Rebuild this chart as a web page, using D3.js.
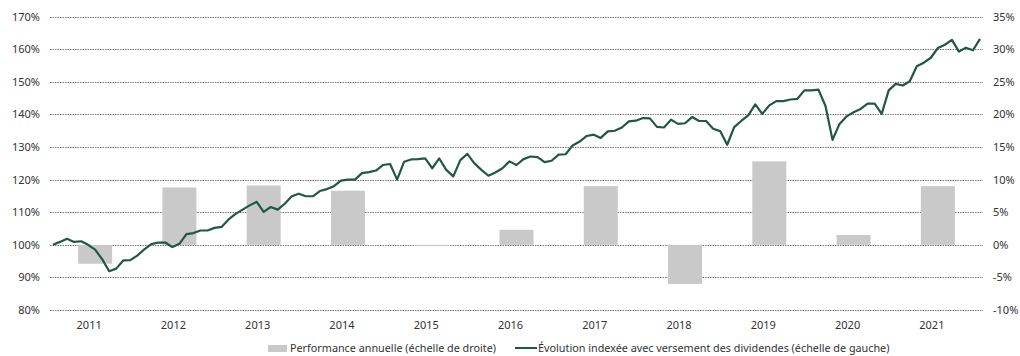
<!DOCTYPE html>
<html>
<head>
<meta charset="utf-8">
<script src="https://cdn.jsdelivr.net/npm/d3@7"></script>
<style>
  html, body { margin: 0; padding: 0; background: #fff; }
  svg { display: block; }
  text { font-family: "Noto Sans", "Open Sans", sans-serif; fill: #333; }
</style>
</head>
<body>
<svg id="chart" width="1020" height="356"></svg>
<script>
// Années affichées sous l'axe
const years = [2011, 2012, 2013, 2014, 2015, 2016, 2017, 2018, 2019, 2020, 2021];

// Performance annuelle en % (échelle de droite)
const annualPerf = [-2.9, 8.8, 9.1, 8.3, -0.2, 2.3, 9.0, -6.0, 12.8, 1.5, 9.0];

// Évolution indexée mensuelle (base 100 fin 2010), échelle de gauche
const indexed = [
  100.0, 100.9, 101.9, 100.9, 101.1, 100.0, 98.5, 95.6, 91.9, 92.7, 95.2, 95.3,
  96.7, 98.6, 100.2, 100.7, 100.7, 99.3, 100.3, 103.3, 103.6, 104.4, 104.4, 105.2,
  105.5, 107.8, 109.5, 110.8, 112.1, 113.2, 110.1, 111.6, 110.8, 112.6, 114.9, 115.7,
  114.9, 114.9, 116.5, 117.1, 118.0, 119.7, 120.0, 120.0, 122.0, 122.3, 122.8, 124.5,
  124.8, 120.0, 125.5, 126.2, 126.3, 126.5, 123.5, 126.5, 123.0, 121.0, 126.0, 127.9,
  125.0, 123.0, 121.2, 122.2, 123.5, 125.6, 124.5, 126.3, 127.1, 126.9, 125.4, 125.8,
  127.7, 127.8, 130.5, 131.7, 133.4, 133.8, 132.8, 134.8, 135.0, 136.0, 137.9, 138.1,
  138.9, 138.8, 136.2, 136.0, 138.4, 137.1, 137.3, 139.2, 138.0, 138.0, 135.6, 134.9,
  130.7, 136.1, 138.0, 139.7, 143.1, 140.2, 142.8, 144.1, 144.1, 144.6, 144.8, 147.4,
  147.4, 147.6, 142.6, 132.2, 137.1, 139.4, 140.7, 141.7, 143.3, 143.3, 140.2, 147.4,
  149.4, 148.9, 150.2, 154.8, 155.9, 157.4, 160.4, 161.4, 162.9, 159.3, 160.5, 159.7,
  163.2
];

// Graduations des deux axes
const leftTicks = [80, 90, 100, 110, 120, 130, 140, 150, 160, 170];
const rightTicks = [-10, -5, 0, 5, 10, 15, 20, 25, 30, 35];

// Légende
const legendLabels = [
  "Performance annuelle (échelle de droite)",
  "Évolution indexée avec versement des dividendes (échelle de gauche)"
];

const BAR_COLOR = "#c9c9c9";
const LINE_COLOR = "#1f5846";

const svg = d3.select("#chart");
const plotLeft = 50, plotRight = 983, plotTop = 16.7, plotBottom = 310;

// Axe horizontal en mois écoulés depuis fin 2010
const x = d3.scaleLinear().domain([0, 132]).range([53, 980]);
const yL = d3.scaleLinear().domain([80, 170]).range([plotBottom, plotTop]);
const yR = d3.scaleLinear().domain([-10, 35]).range([plotBottom, plotTop]);

// Grille pointillée
svg.append("g")
  .selectAll("line")
  .data(leftTicks)
  .join("line")
  .attr("x1", plotLeft).attr("x2", plotRight)
  .attr("y1", d => Math.round(yL(d)) + 0.5)
  .attr("y2", d => Math.round(yL(d)) + 0.5)
  .attr("stroke", "#555")
  .attr("stroke-width", 0.8)
  .attr("stroke-dasharray", "1.5,1");

// Barres de performance annuelle
const barW = 34;
svg.append("g")
  .selectAll("rect")
  .data(years.map((yr, i) => ({ yr, i, v: annualPerf[i] })))
  .join("rect")
  .attr("x", d => x(d.i * 12 + 6) - barW / 2)
  .attr("width", barW)
  .attr("y", d => yR(Math.max(0, d.v)))
  .attr("height", d => Math.max(1, Math.abs(yR(d.v) - yR(0))))
  .attr("fill", BAR_COLOR);

// Courbe indexée
const line = d3.line()
  .x((d, i) => x(i))
  .y(d => yL(d));

svg.append("path")
  .datum(indexed)
  .attr("d", line)
  .attr("fill", "none")
  .attr("stroke", LINE_COLOR)
  .attr("stroke-width", 2.2)
  .attr("stroke-linejoin", "round");

// Axe gauche
const axisL = svg.append("g")
  .attr("transform", `translate(${plotLeft},0)`)
  .call(d3.axisLeft(yL).tickValues(leftTicks).tickSize(0).tickPadding(10)
    .tickFormat(d => d + "%"));
axisL.select(".domain").remove();
axisL.selectAll("text").style("font-size", "11px").style("font-family", null).attr("fill", "#333");

// Axe droit
const axisR = svg.append("g")
  .attr("transform", `translate(${plotRight},0)`)
  .call(d3.axisRight(yR).tickValues(rightTicks).tickSize(0).tickPadding(10)
    .tickFormat(d => d + "%"));
axisR.select(".domain").remove();
axisR.selectAll("text").style("font-size", "11px").style("font-family", null).attr("fill", "#333");

// Années
svg.append("g")
  .selectAll("text")
  .data(years)
  .join("text")
  .attr("x", (d, i) => x(i * 12 + 6) - 6)
  .attr("y", 329)
  .attr("text-anchor", "middle")
  .style("font-size", "11px")
  .text(d => d);

// Légende
const leg = svg.append("g");
leg.append("rect")
  .attr("x", 268).attr("y", 345).attr("width", 19).attr("height", 7)
  .attr("fill", BAR_COLOR);
leg.append("text")
  .attr("x", 290).attr("y", 352)
  .style("font-size", "10.8px")
  .text(legendLabels[0]);
leg.append("line")
  .attr("x1", 515).attr("x2", 537).attr("y1", 348).attr("y2", 348)
  .attr("stroke", LINE_COLOR).attr("stroke-width", 2);
leg.append("text")
  .attr("x", 538).attr("y", 352)
  .style("font-size", "10.8px")
  .text(legendLabels[1]);
</script>
</body>
</html>
